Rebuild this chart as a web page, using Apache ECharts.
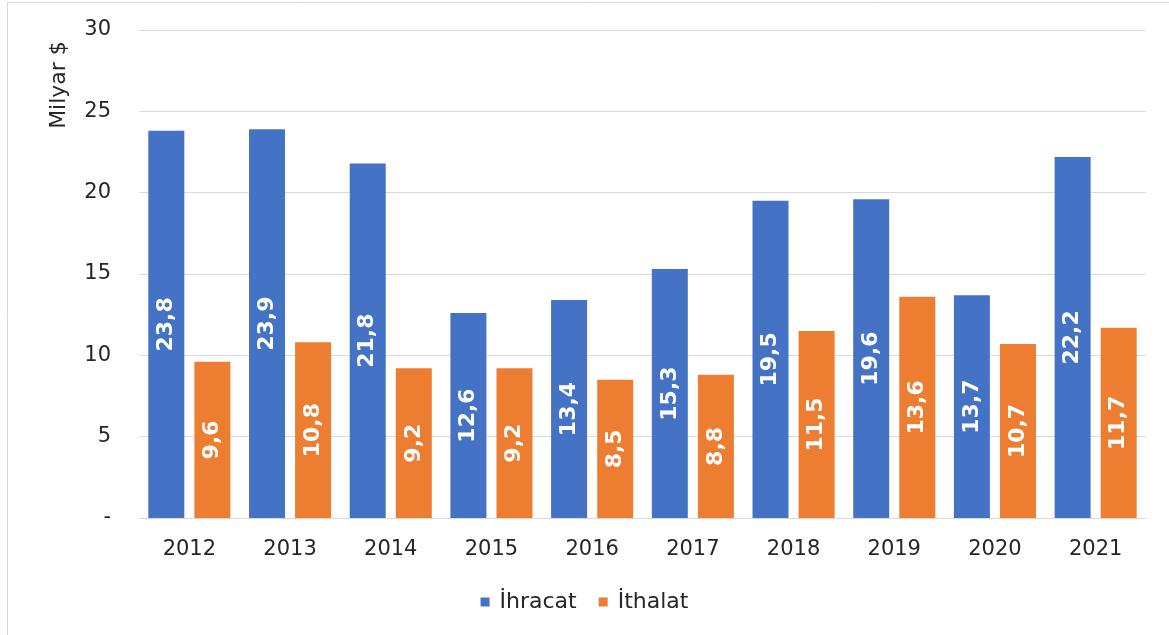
<!DOCTYPE html>
<html>
<head>
<meta charset="utf-8">
<script src="https://cdn.jsdelivr.net/npm/echarts@6/dist/echarts.min.js"></script>
<style>html,body{margin:0;padding:0;background:#fff}#c{width:1169px;height:635px}</style>
</head>
<body>
<div id="c"></div>
<script>
const categories = ['2012','2013','2014','2015','2016','2017','2018','2019','2020','2021'];
const ihracat = [23.8, 23.9, 21.8, 12.6, 13.4, 15.3, 19.5, 19.6, 13.7, 22.2];
const ithalat = [9.6, 10.8, 9.2, 9.2, 8.5, 8.8, 11.5, 13.6, 10.7, 11.7];
const seriesNames = ['İhracat', 'İthalat'];
const yTicks = [0, 5, 10, 15, 20, 25, 30];
const yAxisTitle = 'Milyar $';

const FONT = 'DejaVu Sans';
const chart = echarts.init(document.getElementById('c'));
const labelCfg = {
  show: true, position: 'inside', rotate: 90, color: '#fff',
  fontFamily: FONT, fontWeight: 'bold', fontSize: 22,
  formatter: p => p.value.toFixed(1).replace('.', ',')
};
chart.setOption({
  animation: false,
  textStyle: { fontFamily: FONT },
  graphic: [
    { type: 'rect', shape: { x: 7.5, y: 2.5, width: 1200, height: 700 }, style: { fill: 'none', stroke: '#d9d9d9', lineWidth: 1 }, silent: true },
    { type: 'text', x: 59, y: 85, rotation: Math.PI / 2, style: { text: yAxisTitle, fontFamily: FONT, fontSize: 22, fill: '#262626', align: 'center', verticalAlign: 'middle' } }
  ],
  grid: { left: 139, right: 23, top: 30, bottom: 117 },
  legend: {
    top: 586, left: 'center', icon: 'rect', itemWidth: 9, itemHeight: 9, itemGap: 22,
    textStyle: { fontFamily: FONT, fontSize: 22, color: '#262626', padding: [0, 0, 0, 5] },
    data: seriesNames
  },
  xAxis: {
    type: 'category', data: categories,
    axisLine: { lineStyle: { color: '#d9d9d9', width: 1 } },
    axisTick: { show: false },
    axisLabel: { color: '#262626', fontSize: 21, fontFamily: FONT, margin: 21 }
  },
  yAxis: {
    type: 'value', min: 0, max: 30, interval: 5,
    axisLine: { show: false }, axisTick: { show: false },
    splitLine: { lineStyle: { color: '#d9d9d9', width: 1 } },
    axisLabel: { color: '#262626', fontSize: 21, fontFamily: FONT, margin: 28,
      formatter: v => yTicks.includes(v) ? (v === 0 ? '-' : String(v)) : '' }
  },
  series: [
    { name: seriesNames[0], type: 'bar', data: ihracat, barWidth: 36, barGap: '28%',
      itemStyle: { color: '#4472C4' }, label: labelCfg },
    { name: seriesNames[1], type: 'bar', data: ithalat, barWidth: 36,
      itemStyle: { color: '#ED7D31' }, label: labelCfg }
  ]
});
</script>
</body>
</html>
